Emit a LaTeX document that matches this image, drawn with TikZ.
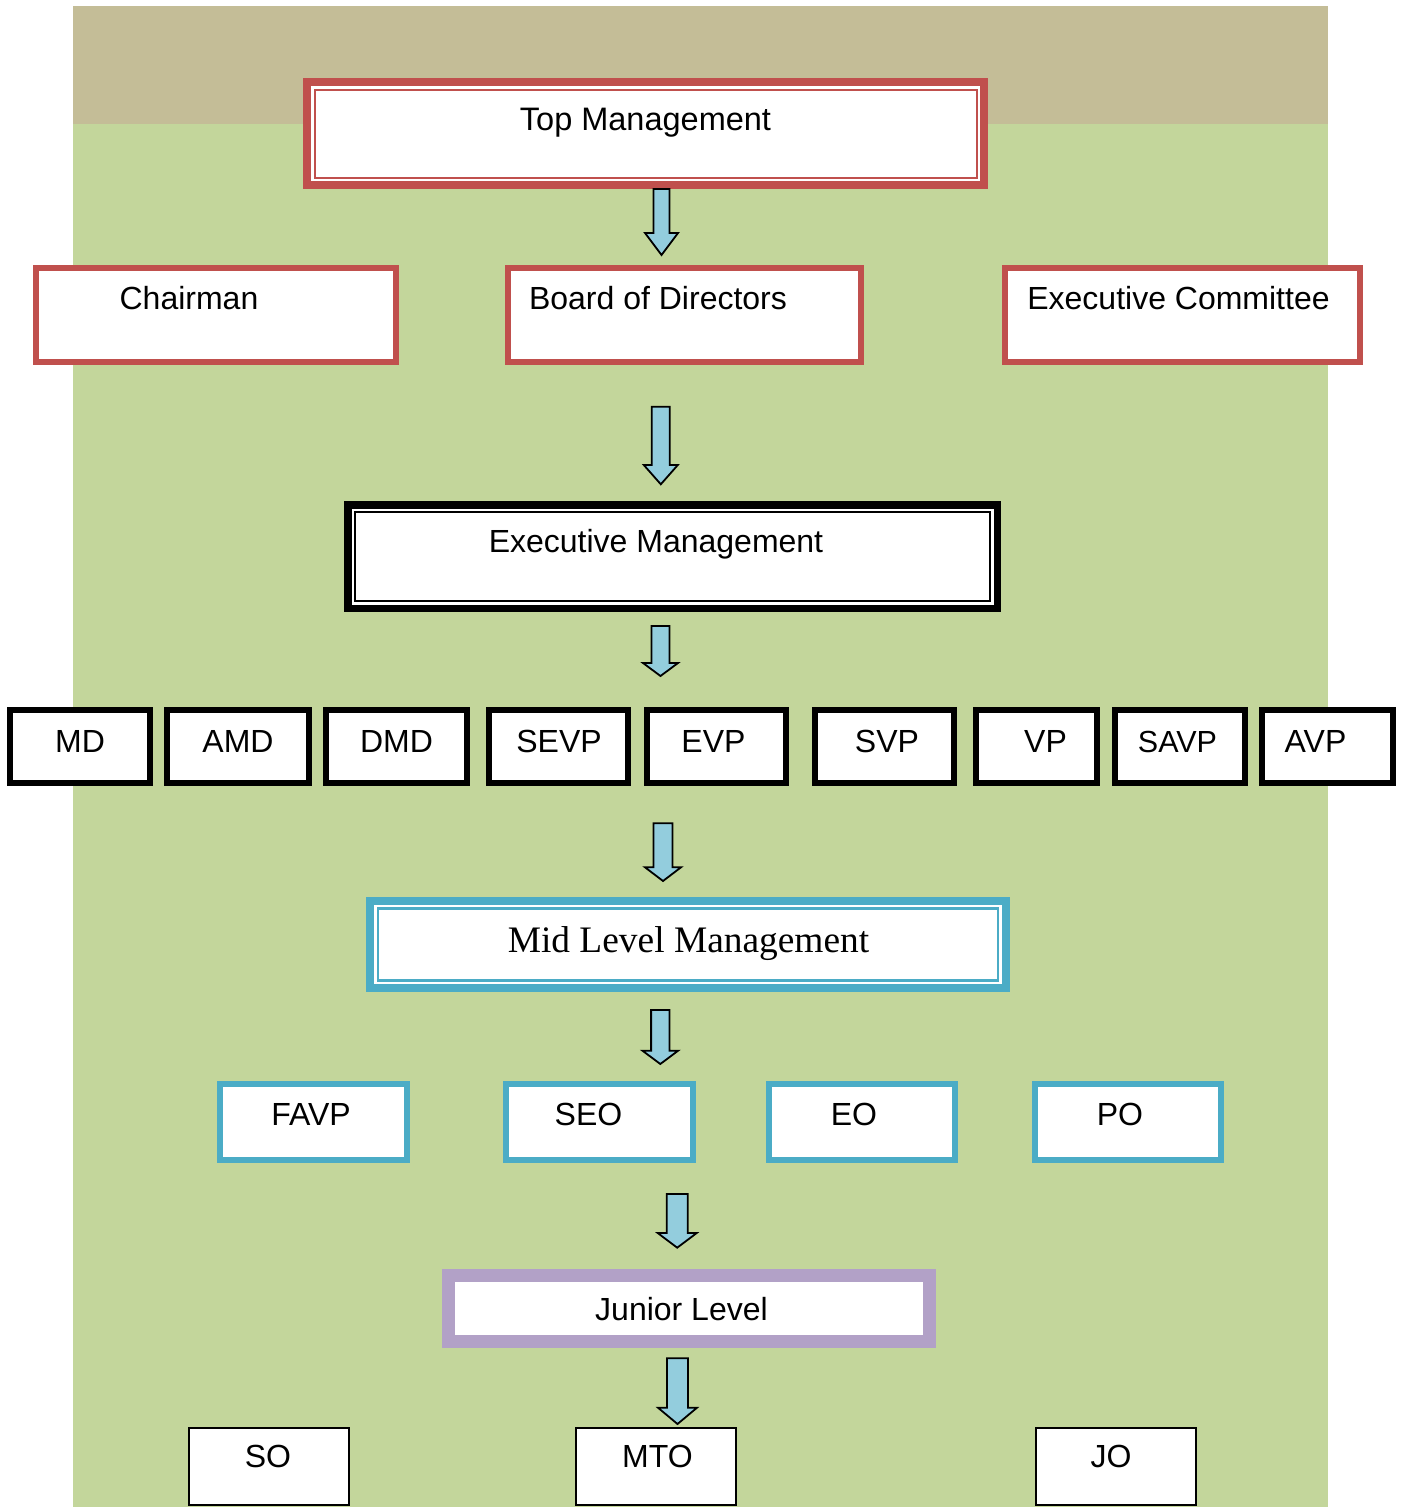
\documentclass[tikz,border=0pt]{standalone}
\usepackage{fontspec}
\setmainfont{Liberation Sans}
\newfontfamily\timesface{Liberation Serif}
\definecolor{bandTan}{HTML}{C4BD97}
\definecolor{fieldGreen}{HTML}{C3D69B}
\definecolor{orgRed}{HTML}{C0504D}
\definecolor{orgBlue}{HTML}{4BACC6}
\definecolor{orgPurple}{HTML}{B2A1C7}
\definecolor{arrowFill}{HTML}{93CDDD}
% block arrow pointing down: x, top y, head start y, tip y, half shaft width, half head width
\newcommand\blockdown[6]{%
  \draw[blockarrow] (#1-#5,#2) -- (#1+#5,#2) -- (#1+#5,#3) -- (#1+#6,#3) -- (#1,#4)
    -- (#1-#6,#3) -- (#1-#5,#3) -- cycle;}
\begin{document}
\begin{tikzpicture}[x=1pt,y=-1pt,
  box/.style={rectangle, fill=white, inner sep=0pt, outer sep=0pt},
  redbox/.style={box, draw=orgRed, line width=6},
  blackbox/.style={box, draw=black, line width=6},
  bluebox/.style={box, draw=orgBlue, line width=6},
  thinbox/.style={box, draw=black, line width=1.8},
  lbl/.style={anchor=base, inner sep=0pt, font=\fontsize{32}{37}\selectfont},
  blockarrow/.style={fill=arrowFill, draw=black, line width=1.8, line join=miter}]
\useasboundingbox (0,0) rectangle (1403,1507);
\fill[white] (0,0) rectangle (1403,1507);
% background bands
\fill[bandTan] (73,6) rectangle (1328,123.5);
\fill[fieldGreen] (73,123.5) rectangle (1328,1507);

% top management
\node[box, draw=orgRed, line width=8, minimum width=677, minimum height=103] (top) at (645.5,133.5) {};
\draw[orgRed, line width=2] ([shift={(7.5,7.5)}]top.north west) rectangle ([shift={(-7.5,-7.5)}]top.south east);
\node[lbl, font=\fontsize{32.5}{38}\selectfont] (tTop) at (645.5,130) {Top Management};

\node[redbox, minimum width=360, minimum height=94] (chair) at (216,315) {};
\node[redbox, minimum width=353, minimum height=94] (board) at (684.5,315) {};
\node[redbox, minimum width=355, minimum height=94] (exco) at (1182.5,315) {};
\node[lbl] (tChair) at (189,309) {Chairman};
\node[lbl] (tBoard) at (658,309) {Board of Directors};
\node[lbl] (tExco) at (1178.5,309) {Executive Committee};

% executive management
\node[box, draw=black, line width=7.5, minimum width=649.5, minimum height=103.5] (exec) at (672.5,556.5) {};
\draw[black, line width=2] ([shift={(7.5,7.5)}]exec.north west) rectangle ([shift={(-7.5,-7.5)}]exec.south east);
\node[lbl] (tExec) at (656,552) {Executive Management};

\node[blackbox, minimum width=140.3, minimum height=73] (md) at (79.85,746) {};
\node[blackbox, minimum width=141.7, minimum height=73] (amd) at (237.85,746) {};
\node[blackbox, minimum width=141, minimum height=73] (dmd) at (396.5,746) {};
\node[blackbox, minimum width=139, minimum height=73] (sevp) at (558.5,746) {};
\node[blackbox, minimum width=139, minimum height=73] (evp) at (716.5,746) {};
\node[blackbox, minimum width=139, minimum height=73] (svp) at (884.5,746) {};
\node[blackbox, minimum width=121, minimum height=73] (vp) at (1036.5,746) {};
\node[blackbox, minimum width=129.4, minimum height=73] (savp) at (1180,746) {};
\node[blackbox, minimum width=130.7, minimum height=73] (avp) at (1327.35,746) {};
\node[lbl] (tMd) at (80,752) {MD};
\node[lbl] (tAmd) at (238,752) {AMD};
\node[lbl] (tDmd) at (396.5,752) {DMD};
\node[lbl] (tSevp) at (559,752) {SEVP};
\node[lbl] (tEvp) at (713.5,752) {EVP};
\node[lbl] (tSvp) at (887,752) {SVP};
\node[lbl] (tVp) at (1045.5,752) {VP};
\node[lbl, font=\fontsize{30.5}{35}\selectfont] (tSavp) at (1177.5,752) {SAVP};
\node[lbl] (tAvp) at (1315.5,752) {AVP};

% mid level management
\node[box, draw=orgBlue, line width=8, minimum width=636, minimum height=87] (mid) at (688,944.5) {};
\draw[orgBlue, line width=2.2] ([shift={(8,7.5)}]mid.north west) rectangle ([shift={(-8,-7.5)}]mid.south east);
\node[lbl, font=\timesface\fontsize{37.4}{42}\selectfont] (tMid) at (688.5,952) {Mid Level Management};

\node[bluebox, minimum width=186.7, minimum height=76.3] (favp) at (313.65,1122.15) {};
\node[bluebox, minimum width=186.4, minimum height=76.3] (seo) at (599.5,1122.15) {};
\node[bluebox, minimum width=186, minimum height=76.3] (eo) at (862,1122.15) {};
\node[bluebox, minimum width=186, minimum height=76.3] (po) at (1128,1122.15) {};
\node[lbl] (tFavp) at (311,1125) {FAVP};
\node[lbl] (tSeo) at (588.5,1125) {SEO};
\node[lbl] (tEo) at (854,1125) {EO};
\node[lbl] (tPo) at (1120,1125) {PO};

% junior level
\node[box, draw=orgPurple, line width=13, minimum width=481.3, minimum height=66] (junior) at (688.85,1308.8) {};
\node[lbl] (tJunior) at (681.5,1320) {Junior Level};

\node[thinbox, minimum width=160, minimum height=76.4] (so) at (269,1466.5) {};
\node[thinbox, minimum width=160, minimum height=76.4] (mto) at (656,1466.5) {};
\node[thinbox, minimum width=160, minimum height=76.4] (jo) at (1116,1466.5) {};
\node[lbl] (tSo) at (268,1467) {SO};
\node[lbl] (tMto) at (657.5,1467) {MTO};
\node[lbl] (tJo) at (1111,1467) {JO};

% block arrows between levels
\blockdown{661.5}{189}{233}{255}{8}{16.5}
\blockdown{660.8}{406.7}{465}{484.3}{9}{17}
\blockdown{660.5}{626}{663}{676}{9}{17.5}
\blockdown{663}{823.3}{867.3}{881}{9.5}{18}
\blockdown{660.3}{1010}{1050.7}{1064}{9.2}{17.8}
\blockdown{677.2}{1194}{1233}{1247.7}{10.5}{19.5}
\blockdown{677.5}{1358.3}{1407.7}{1424}{10.5}{19.5}
\end{tikzpicture}
\end{document}
